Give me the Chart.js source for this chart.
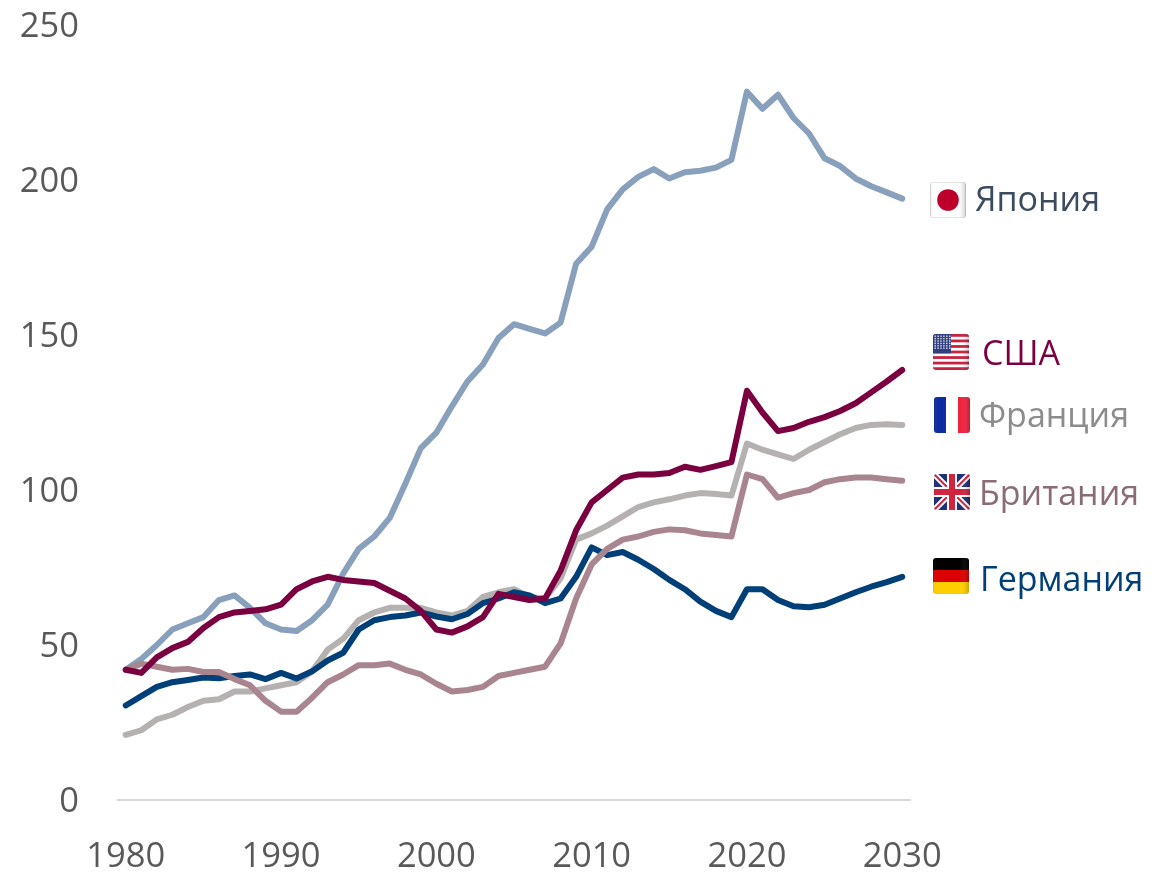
<!DOCTYPE html>
<html><head><meta charset="utf-8">
<style>html,body{margin:0;padding:0;background:#fff}#w{width:1166px;height:872px}</style>
<script src="https://cdn.jsdelivr.net/npm/chart.js@4"></script></head>
<body><div id="w"><canvas id="c" width="1166" height="872"></canvas></div>
<script>
const years=[1980,1981,1982,1983,1984,1985,1986,1987,1988,1989,1990,1991,1992,1993,1994,1995,1996,1997,1998,1999,2000,2001,2002,2003,2004,2005,2006,2007,2008,2009,2010,2011,2012,2013,2014,2015,2016,2017,2018,2019,2020,2021,2022,2023,2024,2025,2026,2027,2028,2029,2030];
const yTicks=[0,50,100,150,200,250];
const japan=[42,45.5,50,55,57,59,64.5,66,62,57,55,54.5,58,63,73,81,85,91,102,113.5,118.5,127,135,140.5,149,153.5,152,150.5,154,173,178.5,190.5,197,201,203.5,200.5,202.5,203,204,206.5,228.5,223,227.5,220,215,207,204.5,200.5,198,196,194];
const usa=[42,41,46,49,51,55.5,59,60.5,61,61.5,63,68,70.5,72,71,70.5,70,67.5,65,61,55,54,56,59,66.5,65.5,64.5,65,74,87,96,100,104,105,105,105.5,107.5,106.5,107.7,109,132,125,119,120,122,123.5,125.5,128,131.5,135,138.7];
const france=[21,22.5,26,27.5,30,32,32.5,35,35,36,37,38,41.5,48.5,52,58,60.5,62,62,62,60.5,59.5,61,65.5,67,68,65.5,65,71.5,84,86,88.5,91.5,94.5,96,97,98.2,99,98.7,98.2,115,113,111.5,110,113,115.5,118,120,121,121.2,121];
const britain=[42,44,43,42,42.3,41.3,41.3,39,37,32,28.5,28.5,33,38,40.5,43.5,43.5,44,42,40.5,37.5,35,35.5,36.5,40,41,42,43,50.5,65,76,81,84,85,86.5,87.3,87,86,85.5,85,105,103.5,97.5,99,100,102.5,103.5,104,104,103.5,103];
const germany=[30.5,33.5,36.5,38,38.7,39.5,39.3,40,40.5,39,41,39.2,41.5,45,47.5,55,58,59,59.5,60.5,59.2,58.3,60,63.5,65,67,66,63.5,65,72,81.5,79,80,77.5,74.5,71,68,64,61,59,68,68,64.5,62.5,62.2,63,65,67,68.8,70.3,72];
const seriesNames=['Япония','США','Франция','Британия','Германия'];

const FONT='"Open Sans"';
function rr(ctx,x,y,s,r){ctx.beginPath();ctx.roundRect(x,y,s,s,r);}
function gloss(ctx,x,y,s){
  const g=ctx.createLinearGradient(x,0,x+s,0);
  g.addColorStop(0,'rgba(0,0,0,0.10)');g.addColorStop(.1,'rgba(255,255,255,0.0)');
  g.addColorStop(.75,'rgba(255,255,255,0.0)');g.addColorStop(1,'rgba(0,0,0,0.2)');
  ctx.fillStyle=g;ctx.fillRect(x,y,s,s);
}
const flags={
  'Япония':(c,x,y,s)=>{c.fillStyle='#fff';c.fillRect(x,y,s,s);c.fillStyle='#bc0029';c.beginPath();c.arc(x+s/2,y+s/2,s*.3,0,7);c.fill();c.strokeStyle='#e4e4e4';c.lineWidth=1;c.strokeRect(x+.5,y+.5,s-1,s-1);},
  'США':(c,x,y,s)=>{const n=13,h=s/n;c.fillStyle='#fff';c.fillRect(x,y,s,s);c.fillStyle='#c8213f';for(let i=0;i<n;i+=2)c.fillRect(x,y+i*h,s,h);
    c.fillStyle='#2f3f7f';c.fillRect(x,y,s*.5,h*7);c.fillStyle='rgba(255,255,255,.85)';
    for(let i=0;i<6;i++)for(let j=0;j<6;j++)c.fillRect(x+1.5+j*2.9,y+1.5+i*2.4,1.4,1.4);},
  'Франция':(c,x,y,s)=>{c.fillStyle='#fff';c.fillRect(x,y,s,s);c.fillStyle='#0f2da0';c.fillRect(x,y,s/3,s);c.fillStyle='#f0233f';c.fillRect(x+2*s/3,y,s/3,s);},
  'Британия':(c,x,y,s)=>{c.fillStyle='#1f2f78';c.fillRect(x,y,s,s);c.lineCap='butt';
    c.strokeStyle='#fff';c.lineWidth=6;c.beginPath();c.moveTo(x,y);c.lineTo(x+s,y+s);c.moveTo(x+s,y);c.lineTo(x,y+s);c.stroke();
    c.strokeStyle='#d0243f';c.lineWidth=2;c.stroke();
    c.strokeStyle='#fff';c.lineWidth=10;c.beginPath();c.moveTo(x+s/2,y);c.lineTo(x+s/2,y+s);c.moveTo(x,y+s/2);c.lineTo(x+s,y+s/2);c.stroke();
    c.strokeStyle='#d0243f';c.lineWidth=6;c.stroke();},
  'Германия':(c,x,y,s)=>{c.fillStyle='#000';c.fillRect(x,y,s,s/3);c.fillStyle='#dd0000';c.fillRect(x,y+s/3,s,s/3);c.fillStyle='#ffce00';c.fillRect(x,y+2*s/3,s,s/3);}
};
const labelPlugin={id:'labels',afterDraw(chart){
  const c=chart.ctx;
  const items=[
    {n:seriesNames[0],fx:930,fy:182,tx:975,ty:201,col:'#3b4b60'},
    {n:seriesNames[1],fx:933,fy:334,tx:982,ty:355,col:'#7a0040'},
    {n:seriesNames[2],fx:934,fy:397,tx:979,ty:417,col:'#8c8c8c'},
    {n:seriesNames[3],fx:934,fy:474,tx:979,ty:495,col:'#8a6b76'},
    {n:seriesNames[4],fx:933,fy:558,tx:980,ty:581,col:'#003f77'}];
  items.forEach(i=>{
    const s=36;c.save();rr(c,i.fx,i.fy,s,3);c.clip();flags[i.n](c,i.fx,i.fy,s);gloss(c,i.fx,i.fy,s);c.restore();
    c.save();c.font='34px '+FONT;c.fillStyle=i.col;c.textAlign='left';c.textBaseline='middle';c.fillText(i.n,i.tx,i.ty);c.restore();
  });
}};
const ds=(label,data,color)=>({label,data,borderColor:color,borderWidth:6,pointRadius:0,tension:0,fill:false,borderJoinStyle:'round',borderCapStyle:'round'});
new Chart(document.getElementById('c'),{
  type:'line',
  data:{labels:years.map(String),datasets:[
    ds(seriesNames[1],usa,'#7a0040'),
    ds(seriesNames[3],britain,'#a8858f'),
    ds(seriesNames[4],germany,'#003f77'),
    ds(seriesNames[2],france,'#b5b1b1'),
    ds(seriesNames[0],japan,'#88a0bb')
  ]},
  options:{responsive:false,animation:false,devicePixelRatio:1,
    layout:{padding:{left:0,right:256,top:25,bottom:0}},
    plugins:{legend:{display:false},tooltip:{enabled:false}},
    scales:{
      x:{type:'category',offset:true,grid:{display:false,drawTicks:false},border:{display:true,color:'#d9d9d9',width:2},
        afterFit(a){a.height=72;a.paddingLeft=0;a.paddingRight=0;},
        ticks:{autoSkip:false,maxRotation:0,minRotation:0,padding:36,color:'#595959',font:{family:FONT,size:34.5},
          callback(v){const y=years[v];return y%10===0?String(y):null;}}},
      y:{min:0,max:250,grid:{display:false,drawTicks:false},border:{display:false},
        afterFit(a){a.width=118;a.paddingTop=0;a.paddingBottom=0;},
        afterBuildTicks(a){a.ticks=yTicks.map(v=>({value:v}));},
        ticks:{padding:39,labelOffset:2,color:'#595959',font:{family:FONT,size:34.5}}}
    }
  },
  plugins:[labelPlugin]
});
</script></body></html>
